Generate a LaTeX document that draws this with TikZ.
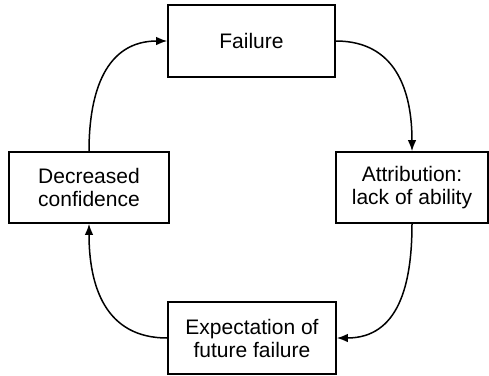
\documentclass[tikz,border=0pt]{standalone}
\usepackage{fontspec}
\setmainfont{Liberation Sans}
\usetikzlibrary{arrows.meta}
\begin{document}
\begin{tikzpicture}[x=1pt,y=-1pt,
  stage/.style={draw, line width=1.6pt, align=center, inner sep=0pt,
    font=\fontsize{21}{23}\selectfont},
  flow/.style={line width=1.5pt, looseness=1.15, -{Latex[length=11pt,width=8.5pt]}}]
  \useasboundingbox (0,0) rectangle (489,375);
  \node[stage, minimum width=167pt, minimum height=72pt] (fail) at (251.5,41) {Failure};
  \node[stage, minimum width=152pt, minimum height=71pt] (attr) at (412,187.5) {Attribution:\\lack of ability};
  \node[stage, minimum width=168pt, minimum height=72pt] (expect) at (252,338) {Expectation of\\future failure};
  \node[stage, minimum width=160pt, minimum height=71pt] (conf) at (89,187.5) {Decreased\\confidence};
  \draw[flow] (fail.east) to[out=0, in=90] (attr.north);
  \draw[flow] (attr.south) to[out=-90, in=0] (expect.east);
  \draw[flow] (expect.west) to[out=180, in=-90] (conf.south);
  \draw[flow] (conf.north) to[out=90, in=180] (fail.west);
\end{tikzpicture}
\end{document}
